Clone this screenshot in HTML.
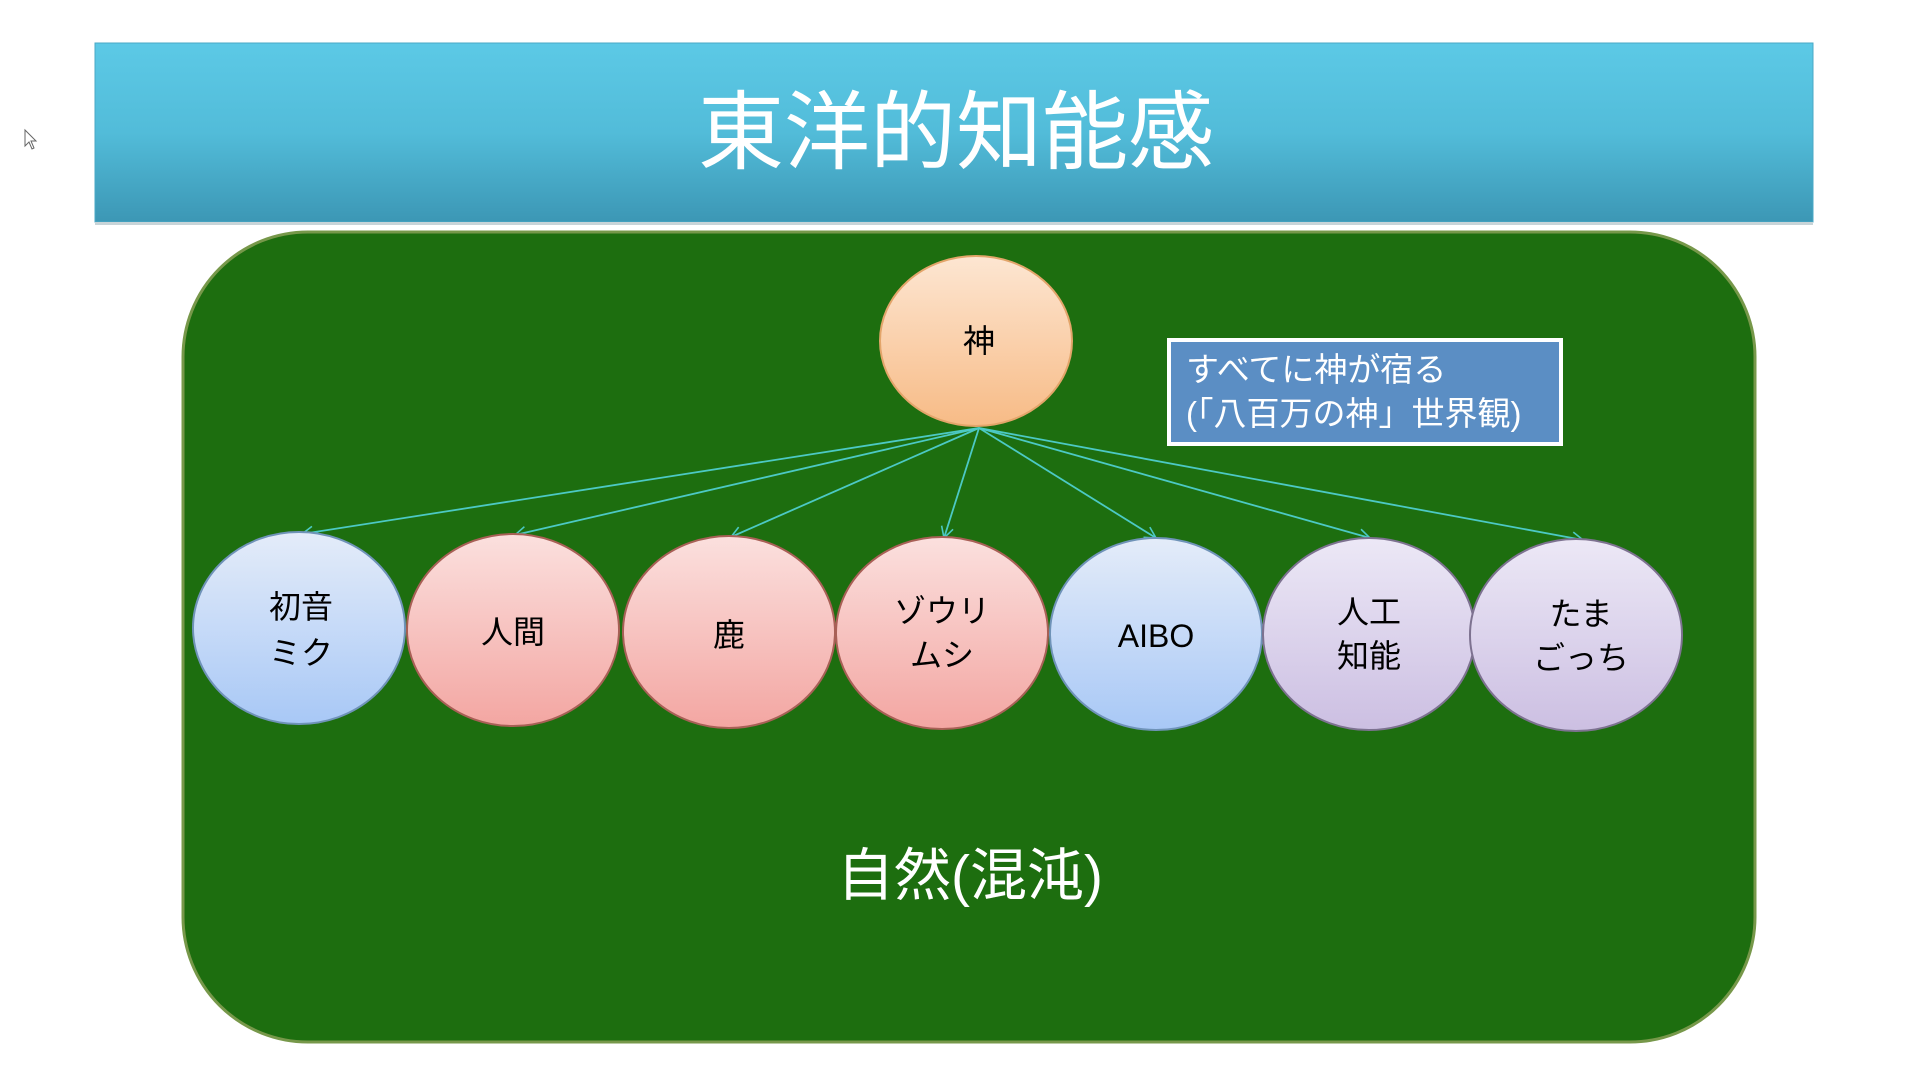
<!DOCTYPE html>
<html><head><meta charset="utf-8"><style>
html,body{margin:0;padding:0;background:#fff;}
body{width:1908px;height:1073px;overflow:hidden;position:relative;font-family:"Liberation Sans","Noto Sans CJK JP",sans-serif;}
</style></head><body>
<svg width="1908" height="1073" viewBox="0 0 1908 1073" xmlns="http://www.w3.org/2000/svg" style="position:absolute;left:0;top:0">
<defs>
<linearGradient id="hd" x1="0" y1="0" x2="0" y2="1"><stop offset="0" stop-color="#5cc9e6"/><stop offset="0.5" stop-color="#52bcd9"/><stop offset="1" stop-color="#3c97b5"/></linearGradient>
<linearGradient id="bl" x1="0" y1="0" x2="0" y2="1"><stop offset="0" stop-color="#e4ecf9"/><stop offset="1" stop-color="#a8c8f6"/></linearGradient>
<linearGradient id="rd" x1="0" y1="0" x2="0" y2="1"><stop offset="0" stop-color="#fbe0de"/><stop offset="1" stop-color="#f3a6a2"/></linearGradient>
<linearGradient id="pu" x1="0" y1="0" x2="0" y2="1"><stop offset="0" stop-color="#ece8f6"/><stop offset="1" stop-color="#ccbfe2"/></linearGradient>
<linearGradient id="or" x1="0" y1="0" x2="0" y2="1"><stop offset="0" stop-color="#fde6d2"/><stop offset="1" stop-color="#f7bb86"/></linearGradient>
<marker id="ar" markerWidth="14" markerHeight="14" refX="12" refY="7" orient="auto" markerUnits="userSpaceOnUse"><path d="M1,1 L12,7 L1,13" fill="none" stroke="#4cc9c4" stroke-width="1.6"/></marker>
</defs>
<rect x="95" y="43" width="1718" height="179" fill="url(#hd)" stroke="#4aa8c6" stroke-width="1"/>
<rect x="95" y="222" width="1718" height="3" fill="#c8d4d8"/>
<text x="956" y="162" text-anchor="middle" font-size="86" fill="#fff" font-family="Liberation Sans,Noto Sans CJK JP,sans-serif">東洋的知能感</text>
<rect x="183" y="232" width="1572" height="810" rx="125" ry="125" fill="#1d6e0f" stroke="#77984a" stroke-width="3"/>
<g stroke="#4cc9c4" stroke-width="1.8" fill="none" marker-end="url(#ar)">
<line x1="979" y1="428" x2="302" y2="534"/>
<line x1="979" y1="428" x2="515" y2="535"/>
<line x1="979" y1="428" x2="731" y2="537"/>
<line x1="979" y1="428" x2="944" y2="538"/>
<line x1="979" y1="428" x2="1156" y2="538"/>
<line x1="979" y1="428" x2="1370" y2="538"/>
<line x1="979" y1="428" x2="1583" y2="540"/>
</g>
<ellipse cx="976" cy="341" rx="96" ry="85" fill="url(#or)" stroke="#e3a56a" stroke-width="2"/>
<g stroke-width="2">
<ellipse cx="299" cy="628" rx="106" ry="96" fill="url(#bl)" stroke="#6f93b8"/>
<ellipse cx="513" cy="630" rx="106" ry="96" fill="url(#rd)" stroke="#a86056"/>
<ellipse cx="729" cy="632" rx="106" ry="96" fill="url(#rd)" stroke="#a86056"/>
<ellipse cx="942" cy="633" rx="106" ry="96" fill="url(#rd)" stroke="#a86056"/>
<ellipse cx="1156" cy="634" rx="106" ry="96" fill="url(#bl)" stroke="#6f93b8"/>
<ellipse cx="1369" cy="634" rx="106" ry="96" fill="url(#pu)" stroke="#7d7290"/>
<ellipse cx="1576" cy="635" rx="106" ry="96" fill="url(#pu)" stroke="#7d7290"/>
</g>
<g font-size="32" fill="#000" text-anchor="middle" font-family="Liberation Sans,Noto Sans CJK JP,sans-serif">
<text x="979" y="352">神</text>
<text x="301" y="618">初音</text><text x="301" y="664">ミク</text>
<text x="513" y="643">人間</text>
<text x="729" y="646">鹿</text>
<text x="942" y="622">ゾウリ</text><text x="942" y="666">ムシ</text>
<text x="1156" y="647">AIBO</text>
<text x="1369" y="623">人工</text><text x="1369" y="667">知能</text>
<text x="1581" y="625">たま</text><text x="1581" y="669">ごっち</text>
</g>
<rect x="1169" y="340" width="392" height="104" fill="#5b8ec4" stroke="#fff" stroke-width="4"/>
<g font-size="33" fill="#fff" font-family="Liberation Sans,Noto Sans CJK JP,sans-serif">
<text x="1186" y="381">すべてに神が宿る</text>
<text x="1186" y="425">(「八百万の神」世界観)</text>
</g>
<text x="970" y="895" text-anchor="middle" font-size="57" fill="#fff" font-family="Liberation Sans,Noto Sans CJK JP,sans-serif">自然(混沌)</text>
<path d="M25,130 L25,146 L29,142 L32,149 L34,148 L31,141 L36,141 Z" fill="#fff" stroke="#666" stroke-width="1"/>
</svg>
</body></html>
